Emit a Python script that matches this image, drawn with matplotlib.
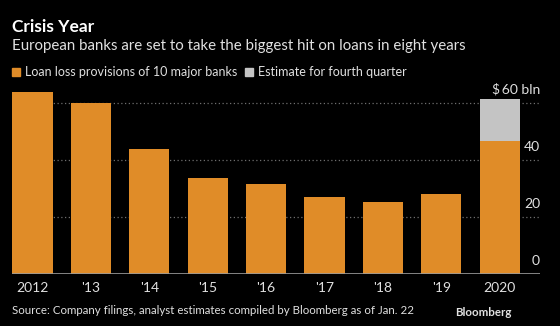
import matplotlib.pyplot as plt
from matplotlib.patches import Rectangle

# Loan loss provisions, $ bln
years = ['2012', "'13", "'14", "'15", "'16", "'17", "'18", "'19", '2020']
provisions = [64.0, 60.0, 44.0, 33.6, 31.7, 27.1, 25.4, 28.1, 46.7]
q4_estimate = [0, 0, 0, 0, 0, 0, 0, 0, 14.9]
yticks = [0, 20, 40, 60]
ylabels = ['0', '20', '40', '$\u200960 bln']

orange = '#E08C28'
grey = '#C4C4C4'
txt = '#E0E0E0'

plt.rcParams['font.family'] = ['Lato', 'DejaVu Sans']

W, H = 560, 326
fig = plt.figure(figsize=(W / 100, H / 100), dpi=100, facecolor='black')

# axes box in pixels: left 12, right 540, baseline at 274 from top
ax = fig.add_axes([12 / W, 52 / H, 528 / W, 185 / H], facecolor='black')
x = list(range(len(years)))
ax.bar(x, provisions, width=0.69, color=orange, zorder=2)
ax.bar(x, q4_estimate, bottom=provisions, width=0.69, color=grey, zorder=2)
ax.set_xlim(-0.351, 8.69)
ax.set_ylim(0, 65)

for v in yticks[1:]:
    ax.axhline(v, color='#6E6E6E', lw=0.9, ls=(0, (1, 2)), zorder=1)
ax.axhline(0, color='#9A9A9A', lw=1.2, zorder=3)
# value labels sit just above their gridlines, right-aligned
for v, lab in zip(yticks, ylabels):
    ax.text(1.0, v + 2.6, lab, transform=ax.get_yaxis_transform(), ha='right', va='bottom',
            color=txt, fontsize=10)

ax.set_xticks(x)
ax.set_xticklabels(years, color=txt, fontsize=10)
ax.tick_params(axis='x', length=0, pad=6)
ax.set_yticks([])
for s in ax.spines.values():
    s.set_visible(False)

# header
fig.text(12 / W, 1 - 27 / H, 'Crisis Year', color='white', fontsize=12.5,
         fontweight='bold', va='center')
fig.text(12 / W, 1 - 46 / H, 'European banks are set to take the biggest hit on loans in eight years',
         color=txt, fontsize=10.85, va='center')

# legend
fig.add_artist(Rectangle((12 / W, 1 - 76 / H), 8 / W, 8 / H, color=orange, transform=fig.transFigure))
fig.text(25 / W, 1 - 72 / H, 'Loan loss provisions of 10 major banks', color=txt, fontsize=9.0, va='center')
fig.add_artist(Rectangle((245 / W, 1 - 76 / H), 8 / W, 8 / H, color=grey, transform=fig.transFigure))
fig.text(258 / W, 1 - 72 / H, 'Estimate for fourth quarter', color=txt, fontsize=9.0, va='center')

# footer
fig.text(12 / W, 1 - 311 / H, 'Source: Company filings, analyst estimates compiled by Bloomberg as of Jan. 22',
         color=txt, fontsize=8.3, va='center')
fig.text(511 / W, 1 - 313 / H, 'Bloomberg', color=txt, fontsize=8.3, fontweight='bold',
         va='center', ha='right')

fig.savefig('out.png', dpi=100, facecolor='black')
